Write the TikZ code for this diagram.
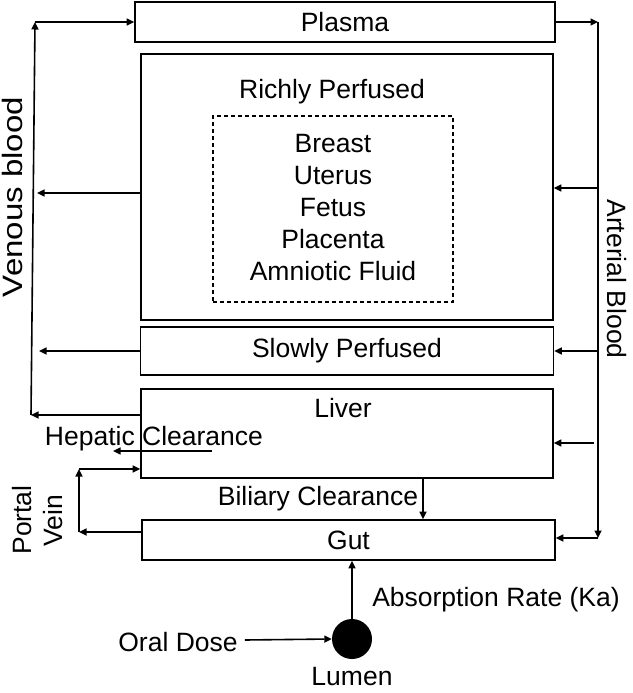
\documentclass[tikz,border=0pt]{standalone}
\usepackage{fontspec}
\setmainfont{Liberation Sans}
\usetikzlibrary{arrows.meta}
\begin{document}
\begin{tikzpicture}[x=1pt,y=-1pt,
  box/.style={draw,line width=1.6pt,inner sep=0pt,font=\fontsize{26.5}{32}\selectfont},
  lbl/.style={inner sep=0pt,font=\fontsize{26.5}{32}\selectfont},
  arr/.style={line width=1.6pt,-{Triangle[length=7.5pt,width=7pt]}},
  ln/.style={line width=1.6pt}]
\useasboundingbox (0,0) rectangle (632,693);
% boxes
\node[box,minimum width=420pt,minimum height=40pt] (plasma) at (345,22) {Plasma};
\node[box,minimum width=412pt,minimum height=266pt] (rich) at (347,187) {};
\node[draw,dashed,line width=1.2pt,dash pattern=on 4pt off 3pt,minimum width=240pt,minimum height=186pt] (dash) at (333,209) {};
\node[box,minimum width=413pt,minimum height=48pt] (slow) at (347,351) {Slowly Perfused};
\node[box,minimum width=412pt,minimum height=89pt] (liver) at (347,433.5) {};
\node[box,minimum width=413pt,minimum height=40pt] (gut) at (348.5,540) {Gut};
\node[circle,fill,inner sep=0pt,minimum size=40pt] (lumen) at (352,639) {};
% texts
\node[lbl] (richt) at (332,92) {Richly Perfused};
\node[lbl,align=center] (organs) at (333,208) {Breast\\Uterus\\Fetus\\Placenta\\Amniotic Fluid};
\node[lbl] (livert) at (343,408) {Liver};
\node[lbl] (hep) at (154,438.5) {Hepatic Clearance};
\node[lbl] (bil) at (318,499) {Biliary Clearance};
\node[lbl] (abs) at (496,600) {Absorption Rate (Ka)};
\node[lbl] (oral) at (178,642) {Oral Dose};
\node[lbl] (lument) at (352,677) {Lumen};
\node[lbl,rotate=90,font=\fontsize{28}{32}\selectfont] (ven) at (12.5,197) {\scalebox{1.18}[1]{Venous blood}};
\node[lbl,rotate=-90] (art) at (617,279) {Arterial Blood};
\node[lbl,rotate=90] (portal) at (22,520) {Portal};
\node[lbl,rotate=90] (vein) at (53,521) {Vein};
% coordinates
\coordinate (vt) at (35,22);
\coordinate (vb) at (31,415);
\coordinate (vr) at (37,193);
\coordinate (vs) at (39,351);
\coordinate (at) at (598,22);
\coordinate (ab) at (598,538);
\coordinate (ar) at (598,188);
\coordinate (as) at (598,351);
\coordinate (al) at (594,443);
\coordinate (pt) at (79,469);
\coordinate (pb) at (79,532);
\coordinate (h1) at (212,451);
\coordinate (h2) at (113,451);
\coordinate (bx) at (423,0);
% venous side
\draw[arr] (liver.west |- vb) -- (vb);
\draw[arr] (vb) -- (vt);
\draw[arr] (vt) -- (plasma.west);
\draw[arr] (rich.west |- vr) -- (vr);
\draw[arr] (slow.west) -- (vs);
% hepatic
\draw[arr] (h1) -- (h2);
% portal
\draw[arr] (gut.west |- pb) -- (pb);
\draw[arr] (pb) -- (pt);
\draw[arr] (pt) -- (liver.west |- pt);
% biliary
\draw[arr] (liver.south -| bx) -- (gut.north -| bx);
% absorption
\draw[arr] (lumen.north) -- (gut.south -| lumen);
\draw[arr] (oral.east) ++(7,-2) -- (lumen.west);
% arterial side
\draw[arr] (plasma.east) -- (at);
\draw[arr] (at) -- (ab);
\draw[arr] (ab) -- (gut.east |- ab);
\draw[arr] (ar) -- (rich.east |- ar);
\draw[arr] (as) -- (slow.east);
\draw[arr] (al) -- (liver.east |- al);
\end{tikzpicture}
\end{document}
